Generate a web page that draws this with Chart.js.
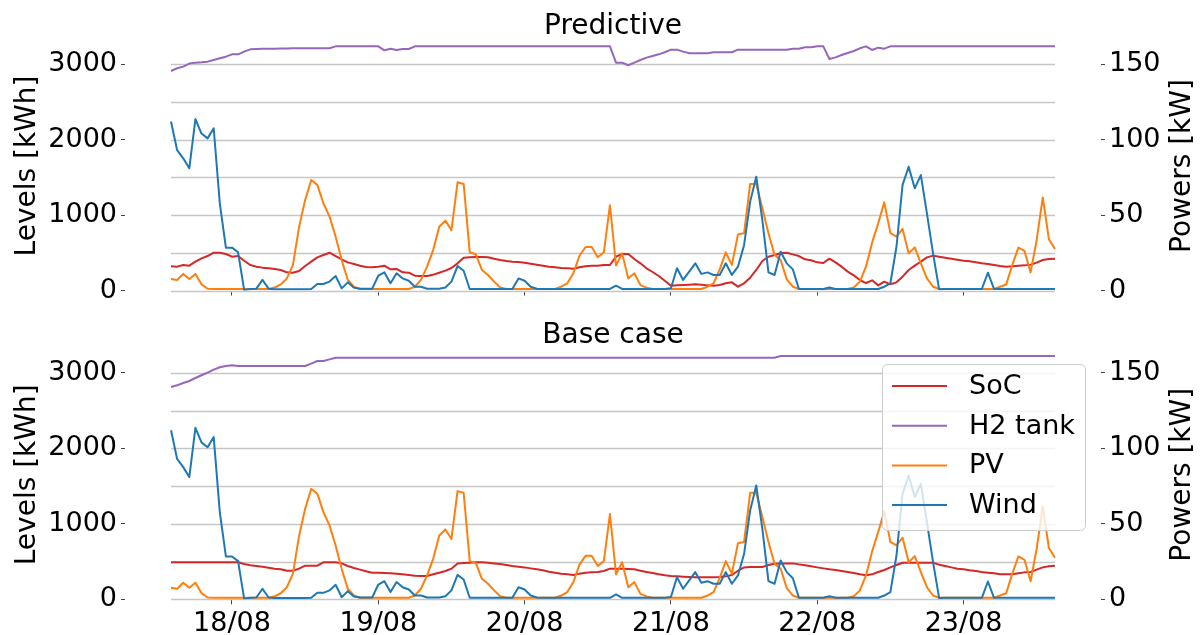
<!DOCTYPE html>
<html>
<head>
<meta charset="utf-8">
<script src="https://cdn.jsdelivr.net/npm/chart.js@4.4.0/dist/chart.umd.min.js"></script>
<style>
  body { margin: 0; background: #fff; }
  #wrap { position: relative; width: 1201px; height: 635px; }
  canvas { position: absolute; left: 0; }
</style>
</head>
<body>
<div id="wrap">
  <canvas id="topChart" width="1201" height="318" style="top:0"></canvas>
  <canvas id="bottomChart" width="1201" height="317" style="top:318px"></canvas>
</div>
<script>
// hourly samples, first one is 17/08 14:00 (hours counted from 17/08 00:00)
const startHour = 14;
const dayTicks = [24, 48, 72, 96, 120, 144];
const dayLabels = ['18/08', '19/08', '20/08', '21/08', '22/08', '23/08'];
const levelTicks = [0, 1000, 2000, 3000];
const powerTicks = [0, 50, 100, 150];
const gridLevels = [0, 500, 1000, 1500, 2000, 2500, 3000];

// kW
const wind = [
  112, 93, 87.6, 81, 113.6, 104, 100.8, 107.5, 57.8, 28.4, 28.4, 25.3,
  0.3, 1, 1.2, 7, 1.2, 0.8, 0.8, 0.8, 0.8, 0.8, 0.8, 1,
  4.3, 4.3, 5.9, 9.6, 1.4, 5.4, 1.9, 1.2, 1.2, 1.2, 9.8, 12,
  4.8, 11.4, 8, 6.5, 2.5, 2.5, 1.2, 1.2, 1.2, 2, 5.9, 16.2,
  13.1, 1, 1, 1, 1, 1, 1, 1, 1, 8, 6.5, 2.5,
  1.2, 1, 1, 1, 1, 1, 1, 1, 1, 1, 1, 1,
  1, 3.2, 1, 1, 1, 1, 1, 1, 1, 1, 1.5, 14.7,
  7, 12.5, 18, 11, 12, 10.3, 10.3, 18, 10.3, 15.8, 30, 58.9,
  75.4, 46.7, 12, 10.3, 25.7, 18, 14, 1, 1, 1, 1, 1,
  2, 1, 1, 1, 1, 1, 1, 1, 1, 2.5, 4.8, 29,
  70, 82, 67.7, 76.5, 51, 24.6, 0.8, 1, 1, 1, 1, 1,
  1, 1, 11.8, 1, 1, 1, 1, 1, 1, 1, 1, 1,
  1, 1
];
const pv = [
  7.6, 7, 11, 7.6, 11, 4.1, 1.2, 1, 1, 1, 1, 1,
  1, 1, 1, 1, 1, 2, 4, 8, 17, 42, 60, 73.2,
  70, 57.8, 49, 35.7, 20, 7, 2.5, 1, 1, 1, 1, 1,
  1, 1, 1, 1, 2.5, 7, 15.8, 26.8, 42.3, 46.3, 40, 71.7,
  70.6, 25.3, 24, 13.6, 10.3, 5.9, 2, 1, 1, 1, 1, 1,
  1, 1, 1, 1, 2.5, 4.8, 11.4, 23, 28.8, 28.8, 22, 25.3,
  56.5, 16.5, 24.6, 8, 11.4, 3.6, 1.9, 1, 1, 1, 1, 1,
  1, 1, 1, 1, 2.5, 4.8, 14, 25.3, 17, 37.2, 38, 70.6,
  70.6, 54.5, 38, 23.6, 20.2, 7.4, 2.5, 1, 1, 1, 1, 1,
  1, 1, 1, 1, 2, 5.9, 15.8, 31.7, 44.5, 58.4, 38, 35.7,
  40.8, 24.6, 28.6, 18, 8, 2.5, 1, 1, 1, 1, 1, 1,
  1, 1, 1, 1, 2.5, 4, 17, 28.4, 26.2, 12, 33.5, 61.7,
  34, 27.5
];

// kWh, predictive run
const socPred = [
  320, 316, 338, 329, 382, 426, 457, 501, 501, 484, 448, 457,
  395, 338, 316, 303, 294, 285, 272, 241, 236, 258, 325, 382,
  439, 471, 501, 457, 413, 373, 351, 329, 311, 307, 316, 329,
  281, 285, 241, 236, 197, 192, 192, 210, 236, 263, 298, 360,
  435, 440, 444, 444, 440, 422, 404, 391, 382, 378, 369, 356,
  342, 329, 316, 307, 298, 294, 289, 307, 320, 329, 329, 337,
  338, 448, 484, 484, 418, 360, 294, 245, 192, 130, 64, 68,
  73, 77, 82, 77, 68, 64, 73, 95, 108, 51, 95, 170,
  272, 391, 448, 471, 493, 501, 479, 457, 413, 400, 373, 365,
  422, 373, 316, 250, 201, 139, 99, 135, 68, 117, 82, 108,
  183, 272, 329, 382, 439, 462, 448, 435, 422, 409, 395, 387,
  373, 360, 351, 338, 325, 316, 320, 329, 333, 342, 369, 404,
  418, 422
];
const h2Pred = [
  2909, 2945, 2967, 3007, 3020, 3025, 3033, 3055, 3077, 3099, 3130, 3130,
  3166, 3196, 3201, 3205, 3205, 3205, 3207, 3207, 3210, 3210, 3210, 3210,
  3210, 3210, 3210, 3236, 3236, 3236, 3236, 3236, 3236, 3236, 3236, 3183,
  3205, 3188, 3201, 3201, 3236, 3236, 3236, 3236, 3236, 3236, 3236, 3236,
  3236, 3236, 3236, 3236, 3236, 3236, 3236, 3236, 3236, 3236, 3236, 3236,
  3236, 3236, 3236, 3236, 3236, 3236, 3236, 3236, 3236, 3236, 3236, 3236,
  3236, 3020, 3020, 2985, 3020, 3055, 3086, 3108, 3130, 3157, 3192, 3192,
  3166, 3144, 3144, 3144, 3144, 3157, 3157, 3157, 3157, 3192, 3192, 3192,
  3192, 3192, 3192, 3192, 3192, 3192, 3205, 3205, 3223, 3223, 3236, 3236,
  3068, 3090, 3121, 3148, 3174, 3210, 3236, 3188, 3218, 3205, 3236, 3236,
  3236, 3236, 3236, 3236, 3236, 3236, 3236, 3236, 3236, 3236, 3236, 3236,
  3236, 3236, 3236, 3236, 3236, 3236, 3236, 3236, 3236, 3236, 3236, 3236,
  3236, 3236
];

// kWh, base case
const socBase = [
  490, 490, 490, 490, 490, 490, 490, 490, 490, 490, 490, 490,
  468, 450, 441, 432, 419, 406, 397, 379, 379, 406, 445, 445,
  445, 490, 490, 490, 476, 441, 415, 393, 371, 353, 353, 348,
  344, 340, 331, 322, 313, 309, 309, 331, 353, 375, 406, 476,
  481, 485, 490, 490, 485, 476, 468, 454, 441, 432, 423, 410,
  397, 384, 366, 353, 340, 331, 322, 340, 353, 357, 362, 375,
  406, 406, 406, 401, 397, 379, 362, 348, 331, 318, 309, 304,
  300, 296, 291, 291, 291, 291, 296, 304, 322, 379, 423, 428,
  428, 428, 454, 472, 476, 476, 476, 463, 450, 437, 423, 410,
  397, 388, 375, 362, 348, 331, 318, 331, 362, 388, 423, 454,
  485, 485, 485, 485, 485, 485, 459, 441, 423, 406, 397, 384,
  375, 362, 353, 344, 331, 331, 331, 344, 357, 362, 393, 423,
  437, 445
];
const h2Base = [
  2814, 2836, 2867, 2893, 2933, 2969, 3004, 3044, 3075, 3092, 3101, 3092,
  3092, 3092, 3092, 3092, 3092, 3092, 3092, 3092, 3092, 3092, 3092, 3123,
  3158, 3158, 3180, 3202, 3202, 3202, 3202, 3202, 3202, 3202, 3202, 3202,
  3202, 3202, 3202, 3202, 3202, 3202, 3202, 3202, 3202, 3202, 3202, 3202,
  3202, 3202, 3202, 3202, 3202, 3202, 3202, 3202, 3202, 3202, 3202, 3202,
  3202, 3202, 3202, 3202, 3202, 3202, 3202, 3202, 3202, 3202, 3202, 3202,
  3202, 3202, 3202, 3202, 3202, 3202, 3202, 3202, 3202, 3202, 3202, 3202,
  3202, 3202, 3202, 3202, 3202, 3202, 3202, 3202, 3202, 3202, 3202, 3202,
  3202, 3202, 3202, 3202, 3224, 3224, 3224, 3224, 3224, 3224, 3224, 3224,
  3224, 3224, 3224, 3224, 3224, 3224, 3224, 3224, 3224, 3224, 3224, 3224,
  3224, 3224, 3224, 3224, 3224, 3224, 3224, 3224, 3224, 3224, 3224, 3224,
  3224, 3224, 3224, 3224, 3224, 3224, 3224, 3224, 3224, 3224, 3224, 3224,
  3224, 3224
];

const FONT = 'DejaVu Sans';
Chart.defaults.font.family = FONT;
Chart.defaults.font.size = 27;
Chart.defaults.color = '#000';

function toPoints(values) {
  return values.map((v, i) => ({ x: startHour + i, y: v }));
}

function line(label, values, color, axis, order) {
  return {
    label: label,
    data: toPoints(values),
    borderColor: color,
    backgroundColor: color,
    borderWidth: 2,
    pointRadius: 0,
    tension: 0,
    borderJoinStyle: 'round',
    yAxisID: axis,
    order: order
  };
}

// horizontal grid only across the sampled period, plus title and axis names
function decorPlugin(title, titleBase, withLegend) {
  return {
    id: 'decor',
    beforeDatasetsDraw(chart) {
      const ctx = chart.ctx;
      const x = chart.scales.x, y = chart.scales.yL;
      const x0 = x.getPixelForValue(startHour);
      const x1 = x.getPixelForValue(startHour + wind.length - 1);
      ctx.save();
      ctx.strokeStyle = '#c6c6c6';
      ctx.lineWidth = 1.5;
      gridLevels.forEach(v => {
        const py = Math.round(y.getPixelForValue(v)) + 0.5;
        ctx.beginPath();
        ctx.moveTo(x0, py);
        ctx.lineTo(x1, py);
        ctx.stroke();
      });
      ctx.restore();
    },
    afterDraw(chart) {
      const ctx = chart.ctx;
      const area = chart.chartArea;
      const midY = (area.top + area.bottom) / 2;
      ctx.save();
      ctx.fillStyle = '#000';
      ctx.font = '28px "' + FONT + '"';
      ctx.textAlign = 'center';
      ctx.textBaseline = 'alphabetic';
      ctx.fillText(title, (area.left + area.right) / 2, titleBase);

      ctx.save();
      ctx.translate(34.5, midY);
      ctx.rotate(-Math.PI / 2);
      ctx.fillText('Levels [kWh]', 0, 0);
      ctx.restore();

      ctx.save();
      ctx.translate(1190, midY);
      ctx.rotate(-Math.PI / 2);
      ctx.fillText('Powers [kW]', 0, 0);
      ctx.restore();

      if (withLegend) {
        const bx = 882, by = 46, bw = 203, bh = 166;
        ctx.fillStyle = 'rgba(255,255,255,0.8)';
        ctx.strokeStyle = '#cccccc';
        ctx.lineWidth = 1;
        ctx.beginPath();
        ctx.roundRect(bx + 0.5, by + 0.5, bw, bh, 5);
        ctx.fill();
        ctx.stroke();
        ctx.font = '27px "' + FONT + '"';
        ctx.textAlign = 'left';
        ctx.textBaseline = 'middle';
        chart.data.datasets.forEach((ds, i) => {
          const ry = by + 22 + i * 39.7;
          ctx.strokeStyle = ds.borderColor;
          ctx.lineWidth = 2;
          ctx.beginPath();
          ctx.moveTo(892, ry);
          ctx.lineTo(947, ry);
          ctx.stroke();
          ctx.fillStyle = '#000';
          ctx.fillText(ds.label, 969, ry + 1);
        });
      }
      ctx.restore();
    }
  };
}

function tickGrid() {
  return { display: true, drawOnChartArea: false, drawTicks: true, tickLength: 4, color: '#444', lineWidth: 1 };
}

function makeChart(id, title, soc, h2, opts) {
  return new Chart(document.getElementById(id), {
    type: 'line',
    data: {
      datasets: [
        line('SoC', soc, '#d62728', 'yL', 4),
        line('H2 tank', h2, '#9467bd', 'yL', 3),
        line('PV', pv, '#ff7f0e', 'yR', 2),
        line('Wind', wind, '#1f77b4', 'yR', 1)
      ]
    },
    options: {
      responsive: false,
      animation: false,
      events: [],
      layout: { padding: { top: opts.top, left: 0, right: 0, bottom: 0 } },
      plugins: { legend: { display: false }, tooltip: { enabled: false }, title: { display: false } },
      scales: {
        x: {
          type: 'linear',
          min: 6.45,
          max: 166.55,
          afterBuildTicks: s => { s.ticks = dayTicks.map(v => ({ value: v })); },
          grid: { display: true, drawOnChartArea: false, drawTicks: true, tickLength: 5, color: '#444', lineWidth: 1 },
          border: { display: false },
          ticks: {
            display: opts.labels,
            autoSkip: false,
            maxRotation: 0,
            padding: 3,
            callback: v => dayLabels[dayTicks.indexOf(v)]
          },
          afterFit: s => { s.height = opts.xHeight; }
        },
        yL: {
          position: 'left',
          min: 0,
          max: 3300,
          afterBuildTicks: s => { s.ticks = levelTicks.map(v => ({ value: v })); },
          grid: tickGrid(),
          border: { display: false },
          ticks: { padding: 4, callback: v => String(v) },
          afterFit: s => { s.width = 125; }
        },
        yR: {
          position: 'right',
          min: 0,
          max: 165,
          afterBuildTicks: s => { s.ticks = powerTicks.map(v => ({ value: v })); },
          grid: tickGrid(),
          border: { display: false },
          ticks: { padding: 4, callback: v => String(v) },
          afterFit: s => { s.width = 100; }
        }
      }
    },
    plugins: [decorPlugin(title, opts.titleBase, opts.legend)]
  });
}

makeChart('topChart', 'Predictive', socPred, h2Pred,
  { top: 41.5, xHeight: 27.5, labels: false, titleBase: 34, legend: false });
makeChart('bottomChart', 'Base case', socBase, h2Base,
  { top: 32.3, xHeight: 35.7, labels: true, titleBase: 25.3, legend: true });
</script>
</body>
</html>
